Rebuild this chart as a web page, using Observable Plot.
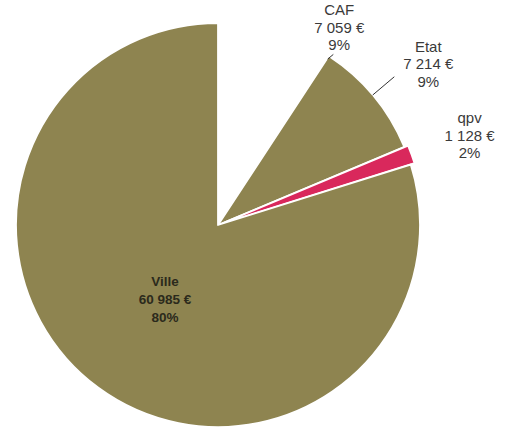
<!DOCTYPE html>
<html><head><meta charset="utf-8">
<script src="https://cdn.jsdelivr.net/npm/d3@7"></script>
<script src="https://cdn.jsdelivr.net/npm/@observablehq/plot@0.6"></script>
<style>body{margin:0;background:#fff}</style>
</head><body><div id="chart"></div>
<script>
// Data
const categories = ["CAF", "Etat", "qpv", "Ville"];
const amounts = [7059, 7214, 1128, 60985];
const amountLabels = ["7 059 €", "7 214 €", "1 128 €", "60 985 €"];
const percentLabels = ["9%", "9%", "2%", "80%"];
const colors = ["#ffffff", "#8e8450", "#d9285c", "#8e8450"];

// Layout
const W = 508, H = 431, cx = 218, cy = 225, R = 202;
const labelRadius = [1.149, 1.311, 1.321, 0.447];
const labelAngleShift = [14.7, 2.1, 0.3, 0]; // degrees
const explode = [0, 0, 4, 0]; // px
const deg = Math.PI / 180;

const rows = categories.map((c, i) => ({category: c, amount: amounts[i], color: colors[i], i}));
const arcs = d3.pie().sort(null).value(d => d.amount)(rows);

const labels = arcs.map((a, i) => {
  const th = (a.startAngle + a.endAngle) / 2 + labelAngleShift[i] * deg;
  return {
    u: labelRadius[i] * Math.sin(th),
    v: labelRadius[i] * Math.cos(th),
    text: `${categories[i]}\n${amountLabels[i]}\n${percentLabels[i]}`,
    inside: labelRadius[i] < 1
  };
});

// leader lines (Etat mid angle, CAF end angle)
const etatMid = (arcs[1].startAngle + arcs[1].endAngle) / 2 - 0.5 * deg;
const cafEnd = arcs[0].endAngle;
const leaders = [
  {u1: Math.sin(etatMid) * 1.0, v1: Math.cos(etatMid) * 1.0, u2: Math.sin(etatMid) * 1.14, v2: Math.cos(etatMid) * 1.14},
  {u1: Math.sin(cafEnd) * 0.985, v1: Math.cos(cafEnd) * 0.985, u2: Math.sin(cafEnd + 0.6 * deg) * 1.02, v2: Math.cos(cafEnd + 0.6 * deg) * 1.02}
];

function pieMark(index, scales) {
  const x = scales.x, y = scales.y;
  const x0 = x(0), y0 = y(0), r = x(1) - x(0);
  const g = d3.create("svg:g");
  const arcGen = d3.arc().innerRadius(0).outerRadius(r);
  arcs.forEach((a, i) => {
    const mid = (a.startAngle + a.endAngle) / 2;
    const dx = explode[i] * Math.sin(mid), dy = -explode[i] * Math.cos(mid);
    g.append("path")
      .attr("d", arcGen(a))
      .attr("transform", `translate(${x0 + dx},${y0 + dy})`)
      .attr("fill", a.data.color)
      .attr("stroke", "#ffffff")
      .attr("stroke-width", 1.8)
      .attr("stroke-linejoin", "round");
  });
  return g.node();
}

const chart = Plot.plot({
  width: W,
  height: H,
  margin: 0,
  x: {domain: [-cx / R, (W - cx) / R], range: [0, W], axis: null},
  y: {domain: [-(H - cy) / R, cy / R], range: [H, 0], axis: null},
  style: {background: "#fff", fontFamily: "'Liberation Sans', Arial, sans-serif"},
  marks: [
    pieMark,
    Plot.link(leaders, {x1: "u1", y1: "v1", x2: "u2", y2: "v2", stroke: "#333", strokeWidth: 1}),
    Plot.text(labels.filter(d => !d.inside), {x: "u", y: "v", text: "text", fill: "#3a3a3a", fontSize: 15, lineHeight: 1.17, textAnchor: "middle"}),
    Plot.text(labels.filter(d => d.inside), {x: "u", y: "v", text: "text", fill: "#2b2a1c", fontSize: 13.5, fontWeight: 600, lineHeight: 1.33, textAnchor: "middle"})
  ]
});
document.getElementById("chart").appendChild(chart);
</script>
</body></html>
